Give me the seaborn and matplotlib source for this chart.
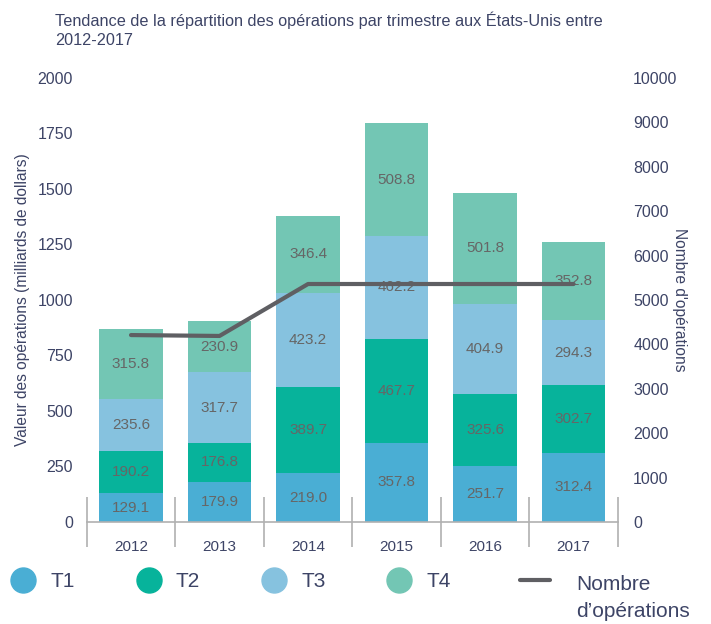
import numpy as np
import pandas as pd
import seaborn as sns
import matplotlib.pyplot as plt
from matplotlib.lines import Line2D

# données
annees = ["2012", "2013", "2014", "2015", "2016", "2017"]
t1 = [129.1, 179.9, 219.0, 357.8, 251.7, 312.4]
t2 = [190.2, 176.8, 389.7, 467.7, 325.6, 302.7]
t3 = [235.6, 317.7, 423.2, 462.2, 404.9, 294.3]
t4 = [315.8, 230.9, 346.4, 508.8, 501.8, 352.8]
nb_operations = [4210, 4190, 5360, 5360, 5360, 5360]

trimestres = ["T1", "T2", "T3", "T4"]
couleurs = ["#4aaed4", "#07b39b", "#86c2df", "#73c6b4"]
navy = "#3d4466"
gris = "#666666"
gris_ligne = "#5f5f63"

sns.set_theme(style="white")
plt.rcParams["font.family"] = ["Liberation Sans", "DejaVu Sans"]
plt.rcParams["axes.unicode_minus"] = False

df = pd.DataFrame({"annee": annees, "T1": t1, "T2": t2, "T3": t3, "T4": t4})
cumul = df[trimestres].cumsum(axis=1)

fig = plt.figure(figsize=(7.11, 6.24), dpi=100)
ax = fig.add_axes([0.122, 0.1635, 0.747, 0.7115])

# barres empilées : on dessine les cumuls du haut vers le bas
for q, c in reversed(list(zip(trimestres, couleurs))):
    sns.barplot(x=df["annee"], y=cumul[q], color=c, width=0.72,
                saturation=1, linewidth=0, ax=ax)

# étiquettes au centre de chaque segment
for i in range(len(annees)):
    for q in trimestres:
        val = df.loc[i, q]
        ax.text(i, cumul.loc[i, q] - val / 2, f"{val:.1f}", ha="center",
                va="center", color=gris, fontsize=11)

ax.set_ylim(0, 2000)
ax.set_xlim(-0.5, 5.5)
ax.set_yticks(range(0, 2001, 250))
ax.set_xlabel("")
ax.set_ylabel("Valeur des opérations (milliards de dollars)", color=navy,
              fontsize=11.2, labelpad=5)
ax.tick_params(axis="y", length=0, labelsize=11.5, labelcolor=navy, pad=10)
ax.tick_params(axis="x", which="major", length=0, labelsize=11,
               labelcolor=navy, pad=13)
# séparateurs entre les années
ax.set_xticks(np.arange(-0.5, 6, 1), minor=True)
ax.tick_params(axis="x", which="minor", bottom=True, direction="inout",
               length=36, color="#b0b0b0", width=1.2)
for s in ["left", "right", "top"]:
    ax.spines[s].set_visible(False)
ax.spines["bottom"].set_color("#b0b0b0")
ax.spines["bottom"].set_linewidth(1.2)

# nombre d'opérations sur l'axe secondaire
ax2 = ax.twinx()
sns.lineplot(x=np.arange(len(annees)), y=nb_operations, color=gris_ligne,
             linewidth=3, ax=ax2)
ax2.set_ylim(0, 10000)
ax2.set_yticks(range(0, 10001, 1000))
ax2.set_ylabel("Nombre d'opérations", color=navy, fontsize=11.2,
               rotation=270, labelpad=-4, va="bottom")
ax2.tick_params(axis="y", length=0, labelsize=11.5, labelcolor=navy, pad=11)
for s in ax2.spines.values():
    s.set_visible(False)

fig.text(0.077, 0.982,
         "Tendance de la répartition des opérations par trimestre aux États-Unis entre\n2012-2017",
         ha="left", va="top", color=navy, fontsize=11.7, linespacing=1.35)

# légende : trimestres
handles = [Line2D([], [], marker="o", linestyle="", markersize=18,
                  markerfacecolor=c, markeredgecolor=c) for c in couleurs]
leg = fig.legend(handles, trimestres, loc="center left",
                 bbox_to_anchor=(-0.017, 0.068), ncol=4, frameon=False,
                 fontsize=15, handlelength=1.6, handletextpad=0.5,
                 columnspacing=2.75)
for t in leg.get_texts():
    t.set_color(navy)

# légende : nombre d'opérations
fig.add_artist(Line2D([0.731, 0.774], [0.071, 0.071], color=gris_ligne,
                      linewidth=3, transform=fig.transFigure))
fig.text(0.81, 0.079, "Nombre\nd’opérations", ha="left", va="top",
         color=navy, fontsize=15, linespacing=1.55)

plt.savefig("out.png", dpi=100)
